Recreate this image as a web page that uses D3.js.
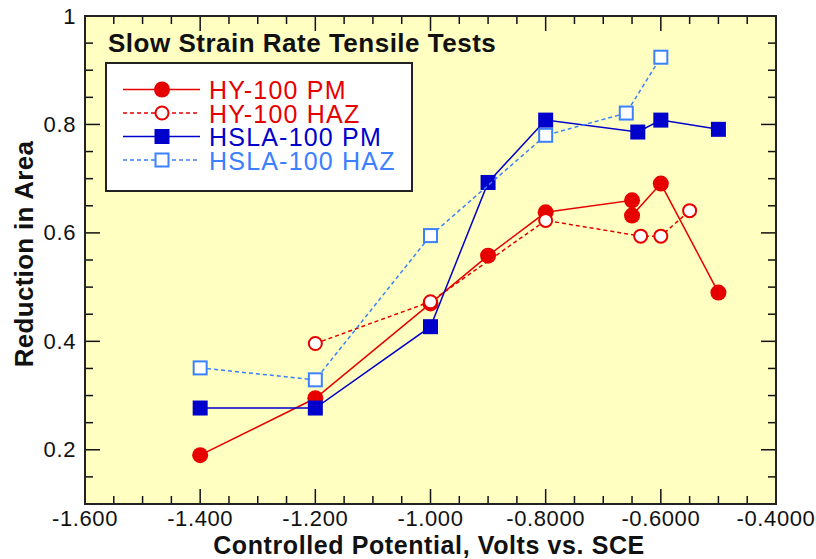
<!DOCTYPE html>
<html>
<head>
<meta charset="utf-8">
<script src="https://cdn.jsdelivr.net/npm/d3@7"></script>
<style>
  body { margin: 0; background: #fff; }
  svg { display: block; font-family: "Liberation Sans", Arial, sans-serif; }
</style>
</head>
<body>
<svg id="chart" width="816" height="559"></svg>
<script>
const width = 816;
const height = 559;
const margin = { top: 16, right: 40, bottom: 55, left: 85 };

// axis ticks
const xMajor = [-1.6, -1.4, -1.2, -1.0, -0.8, -0.6, -0.4];
const xLabels = ["-1.600", "-1.400", "-1.200", "-1.000", "-0.8000", "-0.6000", "-0.4000"];
const yMajor = [0.2, 0.4, 0.6, 0.8, 1];
const yLabels = ["0.2", "0.4", "0.6", "0.8", "1"];

// series
const hyPmX = [-1.4, -1.2, -1.0, -0.9, -0.8, -0.65, -0.65, -0.6, -0.5];
const hyPmY = [0.19, 0.295, 0.47, 0.558, 0.638, 0.66, 0.632, 0.691, 0.49];
const hyHazX = [-1.2, -1.0, -0.8, -0.635, -0.6, -0.55];
const hyHazY = [0.396, 0.473, 0.623, 0.594, 0.594, 0.641];
const hslaPmX = [-1.4, -1.2, -1.0, -0.9, -0.8, -0.64, -0.6, -0.5];
const hslaPmY = [0.277, 0.277, 0.427, 0.693, 0.808, 0.786, 0.808, 0.791];
const hslaHazX = [-1.4, -1.2, -1.0, -0.8, -0.66, -0.6];
const hslaHazY = [0.351, 0.329, 0.595, 0.78, 0.821, 0.924];

const seriesNames = ["HY-100 PM", "HY-100 HAZ", "HSLA-100 PM", "HSLA-100 HAZ"];

const red = "#e60000";
const blue = "#0000cc";
const lightBlue = "#3a80ff";

const series = [
  { name: seriesNames[0], xs: hyPmX, ys: hyPmY, color: red, dash: null, shape: "circle", filled: true },
  { name: seriesNames[1], xs: hyHazX, ys: hyHazY, color: red, dash: "4,3", shape: "circle", filled: false },
  { name: seriesNames[2], xs: hslaPmX, ys: hslaPmY, color: blue, dash: null, shape: "square", filled: true },
  { name: seriesNames[3], xs: hslaHazX, ys: hslaHazY, color: lightBlue, dash: "4,3", shape: "square", filled: false }
];

const svg = d3.select('#chart');
const pw = width - margin.left - margin.right;
const ph = height - margin.top - margin.bottom;

const x = d3.scaleLinear().domain([-1.6, -0.4]).range([margin.left, margin.left + pw]);
const y = d3.scaleLinear().domain([0.1, 1]).range([margin.top + ph, margin.top]);

svg.append('rect')
  .attr('x', margin.left).attr('y', margin.top)
  .attr('width', pw).attr('height', ph)
  .attr('fill', '#ffffc2');

// ticks on all four sides, pointing inward
const xMinor = d3.range(-1.6, -0.399, 0.05).map(v => +v.toFixed(2));
const yMinor = d3.range(0.1, 1.0001, 0.05).map(v => +v.toFixed(2));
const isMajor = (v, arr) => arr.some(m => Math.abs(m - v) < 1e-6);

const ticks = svg.append('g').attr('stroke', '#111').attr('stroke-width', 1.5);
xMinor.forEach(v => {
  const len = isMajor(v, xMajor) ? 15 : 8;
  ticks.append('line').attr('x1', x(v)).attr('x2', x(v))
    .attr('y1', y.range()[0]).attr('y2', y.range()[0] - len);
  ticks.append('line').attr('x1', x(v)).attr('x2', x(v))
    .attr('y1', y.range()[1]).attr('y2', y.range()[1] + len);
});
yMinor.forEach(v => {
  const len = isMajor(v, yMajor) ? 15 : 8;
  ticks.append('line').attr('y1', y(v)).attr('y2', y(v))
    .attr('x1', x.range()[0]).attr('x2', x.range()[0] + len);
  ticks.append('line').attr('y1', y(v)).attr('y2', y(v))
    .attr('x1', x.range()[1]).attr('x2', x.range()[1] - len);
});

svg.append('rect')
  .attr('x', margin.left).attr('y', margin.top)
  .attr('width', pw).attr('height', ph)
  .attr('fill', 'none').attr('stroke', '#222').attr('stroke-width', 2);

// tick labels
svg.append('g').selectAll('text').data(xMajor).enter().append('text')
  .attr('x', d => x(d)).attr('y', 526)
  .attr('text-anchor', 'middle')
  .attr('font-size', 22).attr('letter-spacing', 0.6).attr('fill', '#111')
  .text((d, i) => xLabels[i]);

svg.append('g').selectAll('text').data(yMajor).enter().append('text')
  .attr('x', 76).attr('y', d => y(d) + 7.5)
  .attr('text-anchor', 'end')
  .attr('font-size', 22).attr('letter-spacing', 0.6).attr('fill', '#111')
  .text((d, i) => yLabels[i]);

// axis titles
svg.append('text')
  .attr('x', 429).attr('y', 554)
  .attr('text-anchor', 'middle')
  .attr('font-size', 25).attr('font-weight', 'bold').attr('letter-spacing', 0.6).attr('fill', '#111')
  .text('Controlled Potential, Volts vs. SCE');

svg.append('text')
  .attr('transform', 'translate(33,254) rotate(-90)')
  .attr('text-anchor', 'middle')
  .attr('font-size', 26).attr('font-weight', 'bold').attr('letter-spacing', 0.3).attr('fill', '#111')
  .text('Reduction in Area');

function drawMarker(g, s, cx, cy) {
  if (s.shape === 'circle') {
    g.append('circle').attr('cx', cx).attr('cy', cy)
      .attr('r', s.filled ? 8 : 6.5)
      .attr('fill', s.filled ? s.color : '#fff')
      .attr('stroke', s.color).attr('stroke-width', s.filled ? 0 : 2);
  } else {
    const half = s.filled ? 7.5 : 6.5;
    g.append('rect').attr('x', cx - half).attr('y', cy - half)
      .attr('width', half * 2).attr('height', half * 2)
      .attr('fill', s.filled ? s.color : '#fff')
      .attr('stroke', s.color).attr('stroke-width', s.filled ? 0 : 2);
  }
}

const line = d3.line().x(d => x(d[0])).y(d => y(d[1]));

series.forEach(s => {
  const pts = s.xs.map((v, i) => [v, s.ys[i]]);
  const g = svg.append('g');
  g.append('path').datum(pts)
    .attr('d', line)
    .attr('fill', 'none')
    .attr('stroke', s.color).attr('stroke-width', 1.5)
    .attr('stroke-dasharray', s.dash);
  pts.forEach(p => drawMarker(g, s, x(p[0]), y(p[1])));
});

// title
svg.append('text')
  .attr('x', 108).attr('y', 52)
  .attr('font-size', 26).attr('font-weight', 'bold').attr('letter-spacing', 0.5).attr('fill', '#111')
  .text('Slow Strain Rate Tensile Tests');

// legend
const leg = svg.append('g');
leg.append('rect')
  .attr('x', 106).attr('y', 63).attr('width', 306).attr('height', 128)
  .attr('fill', '#fff').attr('stroke', '#222').attr('stroke-width', 2);

const legBase = [99, 122.5, 146, 169.5];
series.forEach((s, i) => {
  const cy = legBase[i] - 9.5;
  leg.append('line').attr('x1', 123).attr('x2', 200).attr('y1', cy).attr('y2', cy)
    .attr('stroke', s.color).attr('stroke-width', 1.5)
    .attr('stroke-dasharray', s.dash);
  drawMarker(leg, s, 162, cy);
  leg.append('text').attr('x', 209).attr('y', legBase[i])
    .attr('font-size', 25).attr('letter-spacing', 1.2).attr('fill', s.color)
    .text(s.name);
});
</script>
</body>
</html>
